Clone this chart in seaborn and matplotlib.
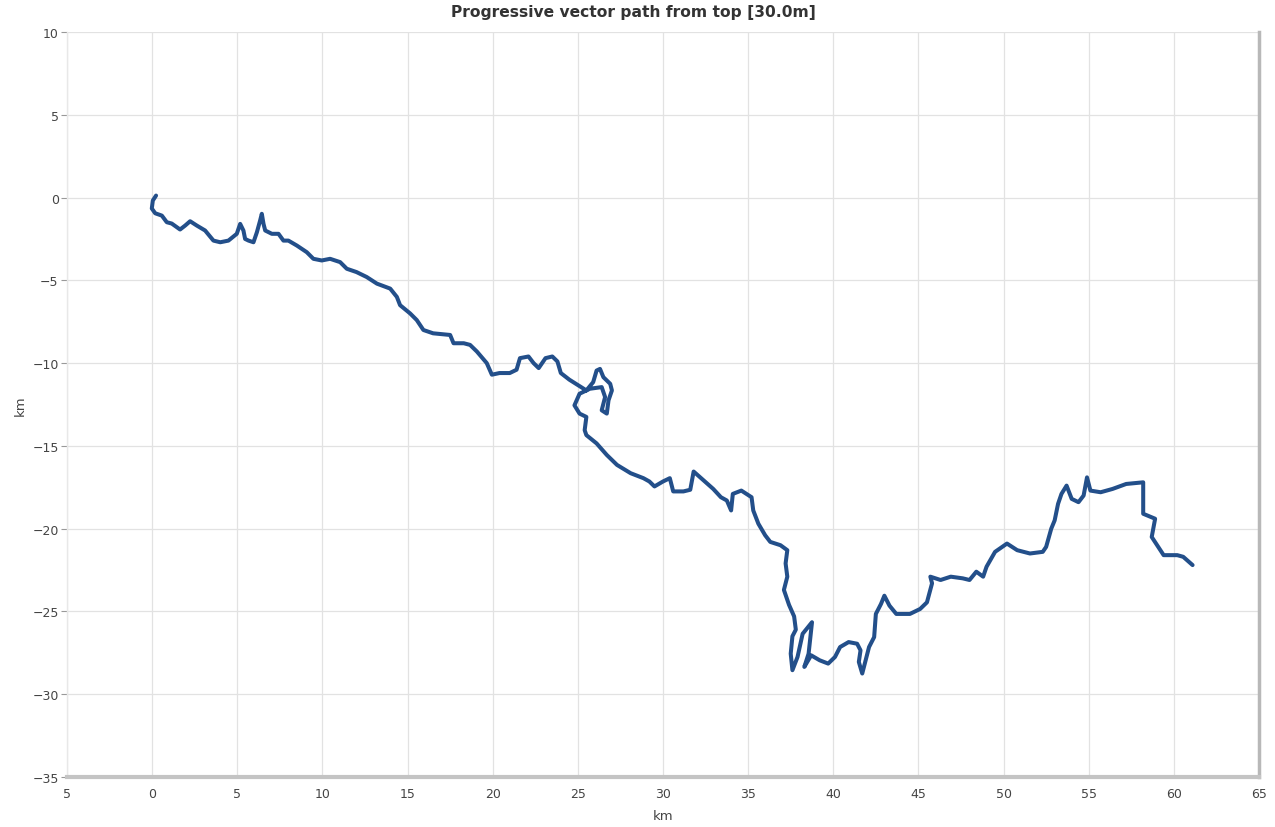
import matplotlib
matplotlib.use("Agg")
import matplotlib.pyplot as plt
import seaborn as sns
import pandas as pd

# progressive vector path (km east, km north)
east_km = [
    0.23, 0.04, -0.02, 0.18, 0.57, 0.86, 1.15, 1.64, 1.94, 2.23, 2.62, 3.11, 3.6, 4.0,
    4.48, 4.97, 5.17, 5.36, 5.46, 5.66, 5.95, 6.15, 6.34, 6.44, 6.54, 6.64, 7.03, 7.42,
    7.71, 8.0, 8.5, 9.08, 9.47, 9.96, 10.45, 11.04, 11.43, 12.0, 12.6, 13.2, 13.98, 14.37,
    14.56, 15.15, 15.54, 15.93, 16.5, 17.5, 17.7, 18.3, 18.67, 19.07, 19.65, 19.95, 20.4,
    21.0, 21.4, 21.6, 22.1, 22.4, 22.7, 23.1, 23.5, 23.8, 24.0, 24.5, 25.5, 25.9, 26.1,
    26.3, 26.5, 26.9, 27.0, 26.8, 26.7, 26.4, 26.6, 26.4, 25.7, 25.1, 24.8, 25.1, 25.5,
    25.4, 25.5, 26.1, 26.7, 27.3, 28.1, 28.85, 29.2, 29.5, 30.0, 30.4, 30.6, 31.2, 31.6,
    31.8, 32.4, 32.95, 33.4, 33.75, 34.0, 34.1, 34.6, 35.2, 35.3, 35.6, 36.0, 36.3, 36.9,
    37.3, 37.2, 37.3, 37.1, 37.4, 37.7, 37.8, 37.6, 37.5, 37.6, 37.9, 38.2, 38.75, 38.55,
    38.3, 38.7, 39.2, 39.7, 40.1, 40.4, 40.9, 41.4, 41.6, 41.5, 41.7, 41.9, 42.1, 42.4,
    42.5, 42.8, 43.0, 43.3, 43.7, 44.5, 45.1, 45.5, 45.8, 45.7, 46.3, 46.9, 47.6, 48.0,
    48.4, 48.8, 49.0, 49.5, 50.2, 50.8, 51.55, 52.3, 52.5, 52.8, 53.0, 53.2, 53.4, 53.7,
    54.0, 54.4, 54.7, 54.9, 55.1, 55.7, 56.4, 57.2, 58.2, 58.2, 58.2, 58.9, 58.7, 59.4,
    60.2, 60.55, 61.1,
]
north_km = [
    0.12, -0.18, -0.66, -0.95, -1.09, -1.49, -1.57, -1.93, -1.69, -1.43, -1.69, -1.99,
    -2.6, -2.7, -2.6, -2.19, -1.59, -1.99, -2.5, -2.6, -2.7, -2.1, -1.39, -0.98, -1.59,
    -1.99, -2.19, -2.19, -2.6, -2.6, -2.9, -3.3, -3.7, -3.8, -3.7, -3.9, -4.3, -4.5, -4.8,
    -5.2, -5.5, -6.0, -6.5, -7.0, -7.4, -8.0, -8.2, -8.3, -8.8, -8.8, -8.9, -9.3, -10.0,
    -10.7, -10.6, -10.6, -10.4, -9.7, -9.6, -10.0, -10.3, -9.7, -9.6, -9.9, -10.6, -11.0,
    -11.65, -11.15, -10.45, -10.35, -10.85, -11.25, -11.65, -12.25, -13.05, -12.85,
    -12.05, -11.45, -11.55, -11.85, -12.55, -13.05, -13.25, -14.05, -14.35, -14.85,
    -15.55, -16.15, -16.65, -16.95, -17.15, -17.45, -17.15, -16.95, -17.75, -17.75,
    -17.65, -16.55, -17.1, -17.6, -18.1, -18.3, -18.9, -17.9, -17.7, -18.1, -18.9, -19.7,
    -20.4, -20.8, -21.0, -21.3, -22.1, -22.9, -23.7, -24.6, -25.3, -26.1, -26.5, -27.55,
    -28.55, -27.75, -26.35, -25.65, -27.55, -28.35, -27.65, -27.95, -28.15, -27.75,
    -27.15, -26.85, -26.95, -27.35, -28.05, -28.75, -27.95, -27.15, -26.55, -25.15,
    -24.55, -24.05, -24.65, -25.15, -25.15, -24.85, -24.45, -23.3, -22.9, -23.1, -22.9,
    -23.0, -23.1, -22.6, -22.9, -22.3, -21.4, -20.9, -21.3, -21.5, -21.4, -21.1, -20.0,
    -19.5, -18.5, -17.9, -17.4, -18.2, -18.4, -18.0, -16.9, -17.7, -17.8, -17.6, -17.3,
    -17.2, -18.1, -19.1, -19.4, -20.5, -21.6, -21.6, -21.7, -22.2,
]
x_ticks = [-5, 0, 5, 10, 15, 20, 25, 30, 35, 40, 45, 50, 55, 60, 65]
x_tick_labels = ["5", "0", "5", "10", "15", "20", "25", "30", "35", "40", "45", "50", "55", "60", "65"]
y_ticks = [-35, -30, -25, -20, -15, -10, -5, 0, 5, 10]

df = pd.DataFrame({"east": east_km, "north": north_km})

sns.set_style("whitegrid")
plt.rcParams["font.family"] = ["DejaVu Sans"]

fig = plt.figure(figsize=(12.75, 8.28), dpi=100)
ax = fig.add_axes([67 / 1275, 1 - 778 / 828, (1259 - 67) / 1275, (778 - 33) / 828])

sns.lineplot(data=df, x="east", y="north", sort=False, estimator=None,
             color="#234f8a", linewidth=2.9, ax=ax)

ax.set_xlim(-5, 65)
ax.set_ylim(-35, 10)
ax.set_xticks(x_ticks)
ax.set_xticklabels(x_tick_labels)
ax.set_yticks(y_ticks)
ax.grid(True, color="#e2e2e2", linewidth=0.9)

ax.spines["top"].set_visible(False)
ax.spines["left"].set_color("#e8e8e8")
ax.spines["left"].set_linewidth(1)
ax.spines["right"].set_color("#b8b8b8")
ax.spines["right"].set_linewidth(2.5)
ax.spines["bottom"].set_color("#c4c4c4")
ax.spines["bottom"].set_linewidth(3)

ax.tick_params(axis="y", left=True, length=4, width=0.8, color="#999999",
               labelsize=9, labelcolor="#444444", pad=2)
ax.tick_params(axis="x", bottom=False, labelsize=9, labelcolor="#444444", pad=4)

ax.set_xlabel("km", fontsize=9.5, color="#444444", labelpad=6)
ax.set_ylabel("km", fontsize=9.5, color="#444444", labelpad=4)
fig.text(0.497, 1 - 12 / 828, "Progressive vector path from top [30.0m]",
         fontsize=11.2, fontweight="bold", color="#333333", ha="center", va="center")

fig.savefig("out.png", dpi=100)
